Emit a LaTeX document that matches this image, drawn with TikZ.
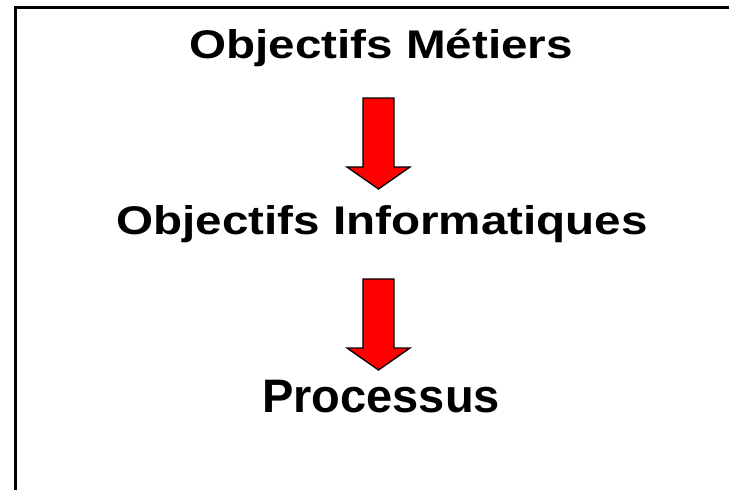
\documentclass[tikz,border=0pt]{standalone}
\usepackage{fontspec}
\setmainfont{Liberation Sans}
\tikzset{
  titre/.style={inner sep=0pt, anchor=base, font=\bfseries\fontsize{40}{48}\selectfont, xscale=1.19},
  grostitre/.style={inner sep=0pt, anchor=base, font=\bfseries\fontsize{47}{56}\selectfont},
  fleche/.style={fill=red, draw=black, line width=1.3pt, line join=miter},
  versbas/.pic={\draw[fleche] (-15.5,0) -- (15.5,0) -- (15.5,69) -- (31.5,69) -- (0,91) -- (-31.5,69) -- (-15.5,69) -- cycle;}
}
\begin{document}
\begin{tikzpicture}[x=1pt, y=-1pt]
				\useasboundingbox (0,0) rectangle (729,490);
				\draw[line width=3pt] (15.5,490) -- (15.5,7.5) -- (729,7.5);

				\node[titre] (metiers) at (381,58) {Objectifs Métiers};
				\node[titre] (info) at (382,234) {Objectifs Informatiques};
				\node[grostitre] (proc) at (381,412) {Processus};

				\pic at (378.5,98) {versbas};
				\pic at (378.5,279) {versbas};

			\end{tikzpicture}
\end{document}
